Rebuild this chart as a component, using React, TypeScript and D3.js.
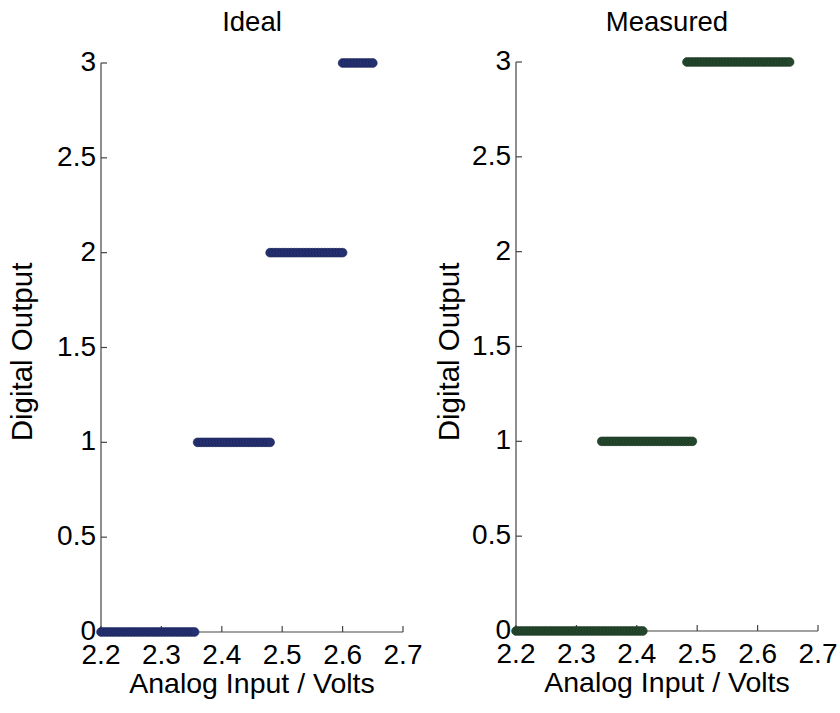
import React from "react";
import * as d3 from "d3";

// Quantizer transfer curves: output code vs analog input voltage.
// Each run of the step plot is stored as start/end input voltage and its code.
const idealStart = [2.2, 2.36, 2.48, 2.6];
const idealEnd = [2.355, 2.48, 2.6, 2.65];
const idealLevel = [0, 1, 2, 3];

const measuredStart = [2.2, 2.342, 2.483];
const measuredEnd = [2.412, 2.49, 2.652];
const measuredLevel = [0, 1, 3];

const sampleStep = 0.005; // input sweep resolution (V)

const xTicks = [2.2, 2.3, 2.4, 2.5, 2.6, 2.7];
const yTicks = [0, 0.5, 1, 1.5, 2, 2.5, 3];

const FONT = "'Liberation Sans', Arial, Helvetica, sans-serif";

type Panel = {
  title: string;
  left: number;
  right: number;
  top: number;
  bottom: number;
  ylabelX: number;
  starts: number[];
  ends: number[];
  levels: number[];
  fill: string;
  stroke: string;
};

function sweep(starts: number[], ends: number[], levels: number[]) {
  const pts: { x: number; y: number }[] = [];
  starts.forEach((s, i) => {
    const n = Math.round((ends[i] - s) / sampleStep);
    for (let k = 0; k <= n; k++) pts.push({ x: s + k * sampleStep, y: levels[i] });
  });
  return pts;
}

function StepPanel({ p }: { p: Panel }) {
  const x = d3.scaleLinear().domain([2.2, 2.7]).range([p.left, p.right]);
  const y = d3.scaleLinear().domain([0, 3]).range([p.bottom, p.top]);
  const pts = sweep(p.starts, p.ends, p.levels);
  const axisColor = "#444";
  const tickLen = 6;
  const cx = (p.left + p.right) / 2;
  return (
    <g>
      <text x={cx} y={31} textAnchor="middle" fontFamily={FONT} fontSize={27.5} fill="#000">
        {p.title}
      </text>
      {/* axes */}
      <line x1={p.left} x2={p.right} y1={p.bottom} y2={p.bottom} stroke={axisColor} strokeWidth={1.2} />
      <line x1={p.left} x2={p.left} y1={p.top} y2={p.bottom} stroke={axisColor} strokeWidth={1.2} />
      {xTicks.map((t) => (
        <g key={"x" + t}>
          <line x1={x(t)} x2={x(t)} y1={p.bottom} y2={p.bottom - tickLen} stroke={axisColor} strokeWidth={1.2} />
          <text x={x(t)} y={p.bottom + 32} textAnchor="middle" fontFamily={FONT} fontSize={28} fill="#000">
            {d3.format(".1f")(t)}
          </text>
        </g>
      ))}
      {yTicks.map((t) => (
        <g key={"y" + t}>
          <line x1={p.left} x2={p.left + tickLen} y1={y(t)} y2={y(t)} stroke={axisColor} strokeWidth={1.2} />
          <text x={p.left - 5} y={y(t) + 8} textAnchor="end" fontFamily={FONT} fontSize={28} fill="#000">
            {String(t)}
          </text>
        </g>
      ))}
      <text
        x={cx}
        y={p.bottom + 61}
        textAnchor="middle"
        fontFamily={FONT}
        fontSize={28.5}
        fill="#000"
      >
        Analog Input / Volts
      </text>
      <text
        transform={`translate(${p.ylabelX},${352}) rotate(-90)`}
        textAnchor="middle"
        fontFamily={FONT}
        fontSize={29.5}
        fill="#000"
      >
        Digital Output
      </text>
      {/* sampled transfer points */}
      {pts.map((d, i) => (
        <circle key={i} cx={x(d.x)} cy={y(d.y)} r={4.4} fill={p.fill} stroke={p.stroke} strokeWidth={0.6} />
      ))}
    </g>
  );
}

export default function App() {
  const panels: Panel[] = [
    {
      title: "Ideal",
      left: 101,
      right: 403,
      top: 63,
      bottom: 632,
      ylabelX: 32,
      starts: idealStart,
      ends: idealEnd,
      levels: idealLevel,
      fill: "#24306f",
      stroke: "#1a2258",
    },
    {
      title: "Measured",
      left: 516,
      right: 818,
      top: 62,
      bottom: 631,
      ylabelX: 459,
      starts: measuredStart,
      ends: measuredEnd,
      levels: measuredLevel,
      fill: "#23462c",
      stroke: "#1a3520",
    },
  ];
  return (
    <svg
      width={840}
      height={713}
      style={{ position: "absolute", left: 0, top: 0, background: "#fff" }}
    >
      <rect width={840} height={713} fill="#fff" />
      {panels.map((p) => (
        <StepPanel key={p.title} p={p} />
      ))}
    </svg>
  );
}
